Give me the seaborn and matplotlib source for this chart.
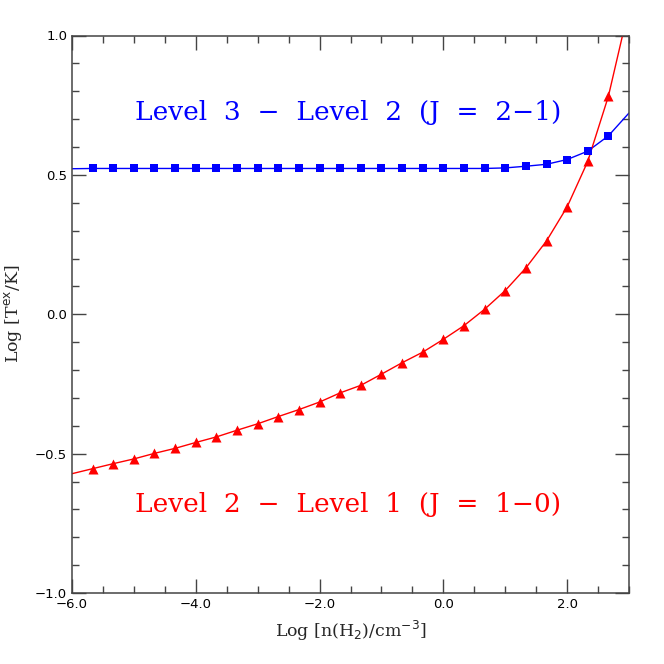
import numpy as np
import pandas as pd
import matplotlib
matplotlib.use("Agg")
import matplotlib.pyplot as plt
from matplotlib.ticker import MultipleLocator, FuncFormatter
import seaborn as sns

# ---- data ----
log_n = [-5.667, -5.333, -5.0, -4.667, -4.333, -4.0, -3.667, -3.333, -3.0,
         -2.667, -2.333, -2.0, -1.667, -1.333, -1.0, -0.667, -0.333, 0.0,
         0.333, 0.667, 1.0, 1.333, 1.667, 2.0, 2.333, 2.667]
tex_21 = [0.523, 0.523, 0.523, 0.523, 0.523, 0.523, 0.523, 0.523, 0.523,
          0.523, 0.523, 0.523, 0.523, 0.523, 0.523, 0.523, 0.523, 0.523,
          0.523, 0.523, 0.525, 0.531, 0.538, 0.555, 0.585, 0.640]
tex_10 = [-0.554, -0.536, -0.519, -0.499, -0.481, -0.460, -0.440, -0.416, -0.393,
          -0.367, -0.342, -0.315, -0.282, -0.255, -0.215, -0.174, -0.136, -0.090,
          -0.041, 0.018, 0.085, 0.166, 0.263, 0.385, 0.548, 0.782]
# curve end points at the frame edges
edge_x = [-6.0, 3.0]
edge_21 = [0.522, 0.722]
edge_10 = [-0.572, 1.10]

label_21 = "Level  3  \u2212  Level  2  (J  =  2\u22121)"
label_10 = "Level  2  \u2212  Level  1  (J  =  1\u22120)"
xlabel = r"Log [n(H$_2$)/cm$^{-3}$]"
ylabel = r"Log [T$^{\rm ex}$/K]"

pts = pd.DataFrame({"x": log_n, "t21": tex_21, "t10": tex_10})
line = pd.DataFrame({
    "x": [edge_x[0]] + log_n + [edge_x[1]],
    "t21": [edge_21[0]] + tex_21 + [edge_21[1]],
    "t10": [edge_10[0]] + tex_10 + [edge_10[1]],
})

sns.set_style("ticks")
plt.rcParams["font.family"] = ["DejaVu Sans"]

fig = plt.figure(figsize=(6.64, 6.64), dpi=100)
ax = fig.add_axes([72/664, 1-593/664, (629-72)/664, (593-35.5)/664])

sns.lineplot(data=line, x="x", y="t21", ax=ax, color="blue", lw=1.0, sort=False)
sns.lineplot(data=line, x="x", y="t10", ax=ax, color="red", lw=1.0, sort=False)
sns.scatterplot(data=pts, x="x", y="t21", ax=ax, color="blue", marker="s",
                s=40, edgecolor="blue", linewidth=0, zorder=3)
sns.scatterplot(data=pts, x="x", y="t10", ax=ax, color="red", marker="^",
                s=52, edgecolor="red", linewidth=0, zorder=3)

fmt = FuncFormatter(lambda v, p: f"{v:.1f}".replace("-", "\u2212"))
ax.set_xlim(-6, 3)
ax.set_ylim(-1, 1)
ax.xaxis.set_major_locator(MultipleLocator(2))
ax.xaxis.set_minor_locator(MultipleLocator(0.5))
ax.yaxis.set_major_locator(MultipleLocator(0.5))
ax.yaxis.set_minor_locator(MultipleLocator(0.1))
ax.xaxis.set_major_formatter(fmt)
ax.yaxis.set_major_formatter(fmt)
ax.tick_params(which="both", direction="in", top=True, right=True, colors="#444444",
               labelcolor="black", labelsize=9.5)
ax.tick_params(which="major", length=10, width=1.0)
ax.tick_params(which="minor", length=5, width=1.0)
for sp in ax.spines.values():
    sp.set_visible(True)
    sp.set_linewidth(1.1)
    sp.set_color("#444444")

ax.set_xlabel(xlabel, family="DejaVu Serif", fontsize=12.5, labelpad=6)
ax.set_ylabel(ylabel, family="DejaVu Serif", fontsize=12.5, labelpad=8)

ax.text(0.4955, 0.862, label_21, transform=ax.transAxes, ha="center", va="center",
        color="blue", fontsize=19, family="DejaVu Serif")
ax.text(0.4955, 0.158, label_10, transform=ax.transAxes, ha="center", va="center",
        color="red", fontsize=19, family="DejaVu Serif")

fig.savefig("out.png", dpi=100)
